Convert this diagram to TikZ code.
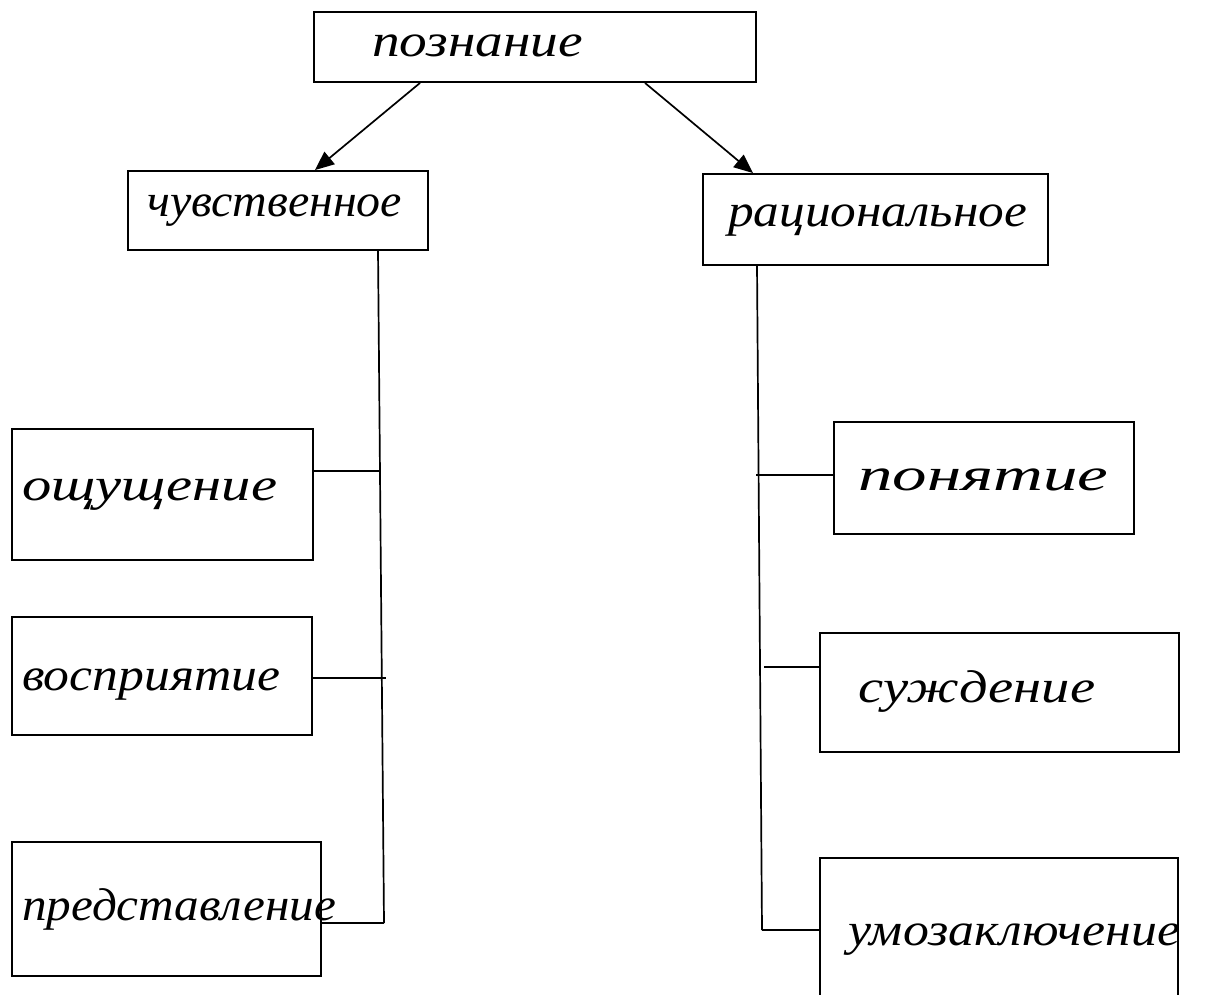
\documentclass[tikz,border=0pt]{standalone}
\usepackage{fontspec}
\setmainfont{Liberation Serif}
\usepackage{graphicx}
\usetikzlibrary{arrows.meta}
\tikzset{
  box/.style={draw=black, line width=1.9pt, inner sep=0pt, fill=none},
  conn/.style={draw=black, line width=1.7pt},
  arr/.style={draw=black, line width=1.7pt, -{Triangle[length=19pt,width=16pt]}},
  hand/.style={anchor=base west, inner sep=0pt, font=\fontsize{46}{56}\selectfont\itshape},
}
\newcommand{\fitw}[2]{\resizebox{#1pt}{\height}{#2}}
\begin{document}
\begin{tikzpicture}[x=1pt,y=-1pt]
\useasboundingbox (0,0) rectangle (1209,995);
\fill[white] (0,0) rectangle (1209,995);
% boxes
\node[box, minimum width=442pt, minimum height=70pt]  (posn) at (535,47) {};
\node[box, minimum width=300pt, minimum height=79pt]  (chuv) at (278,210.5) {};
\node[box, minimum width=345pt, minimum height=91pt]  (rats) at (875.5,219.5) {};
\node[box, minimum width=301pt, minimum height=131pt] (oshu) at (162.5,494.5) {};
\node[box, minimum width=300pt, minimum height=118pt] (vosp) at (162,676) {};
\node[box, minimum width=309pt, minimum height=134pt] (pred) at (166.5,909) {};
\node[box, minimum width=300pt, minimum height=112pt] (pony) at (984,478) {};
\node[box, minimum width=359pt, minimum height=119pt] (sujd) at (999.5,692.5) {};
\node[box, minimum width=358pt, minimum height=150pt] (umoz) at (999,933) {};
% texts
\node[hand] (tposn) at (372,57)  {\fitw{211}{познание}};
\node[hand] (tchuv) at (147,216) {\fitw{255}{чувственное}};
\node[hand] (trats) at (728,226) {\fitw{299}{рациональное}};
\node[hand] (toshu) at (22,500)  {\fitw{255}{ощущение}};
\node[hand] (tvosp) at (22,690)  {\fitw{258}{восприятие}};
\node[hand] (tpred) at (22,920)  {\fitw{314}{представление}};
\node[hand] (tpony) at (858,490) {\fitw{250}{понятие}};
\node[hand] (tsujd) at (858,702) {\fitw{237}{суждение}};
\node[hand] (tumoz) at (848,945) {\fitw{332}{умозаключение}};
% arrows
\draw[arr] ([xshift=-115pt]posn.south) -- ([xshift=37pt]chuv.north);
\draw[arr] ([xshift=110pt]posn.south) -- ([xshift=-122.5pt]rats.north);
% left trunk
\coordinate (lt) at (378,250);
\coordinate (lb) at (384,923);
\coordinate (j1) at (379,471);
\coordinate (j2) at (386,678);
\draw[conn] (lt) -- (lb);
\draw[conn] (oshu.east |- j1) -- (j1);
\draw[conn] (vosp.east |- j2) -- (j2);
\draw[conn] (pred.east |- lb) -- (lb);
% right trunk
\coordinate (rt) at (757,265);
\coordinate (rb) at (762,930);
\coordinate (k1) at (756,475);
\coordinate (k2) at (764,667);
\draw[conn] (rt) -- (rb);
\draw[conn] (k1) -- (pony.west |- k1);
\draw[conn] (k2) -- (sujd.west |- k2);
\draw[conn] (rb) -- (umoz.west |- rb);
\end{tikzpicture}
\end{document}
